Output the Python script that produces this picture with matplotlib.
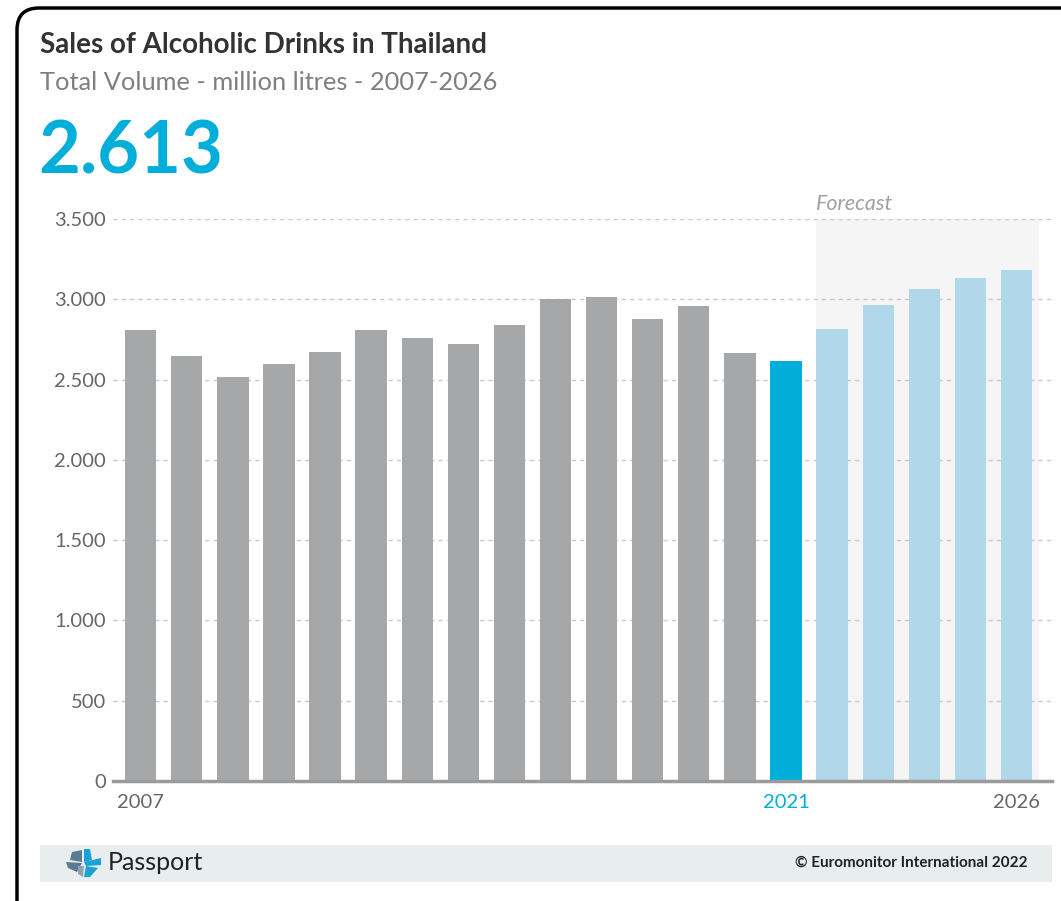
import matplotlib.pyplot as plt
from matplotlib.patches import FancyBboxPatch, Rectangle, Polygon
from matplotlib.ticker import FuncFormatter

plt.rcParams['font.family'] = ['Lato', 'DejaVu Sans']

years = list(range(2007, 2027))
volume = [2808, 2646, 2516, 2598, 2671, 2810, 2756, 2723, 2839, 3003,
          3012, 2879, 2960, 2667, 2613, 2813, 2967, 3067, 3131, 3183]
shown_years = ['2007', '2021', '2026']

GREY = '#A6A7A9'
BLUE = '#00AEDA'
LIGHT = '#B1D7EA'
TXT = '#666666'

W, H = 1061, 901
fig = plt.figure(figsize=(W / 100, H / 100), dpi=100)

# overlay in pixel coords for frame, header and footer
bg = fig.add_axes([0, 0, 1, 1], zorder=0)
bg.set_xlim(0, W)
bg.set_ylim(H, 0)
bg.axis('off')
bg.add_patch(FancyBboxPatch((17, 8), 1080, 940, boxstyle='round,pad=0,rounding_size=22',
                            fc='white', ec='black', lw=2.5))
bg.add_patch(Rectangle((40, 845), 1012, 37, fc='#E8EDED', ec='none'))
bg.text(40, 45, 'Sales of Alcoholic Drinks in Thailand', fontsize=20, fontweight='bold',
        color='#333333', va='center', ha='left')
bg.text(40, 83, 'Total Volume - million litres - 2007-2026', fontsize=18.3, color='#7F7F7F',
        va='center', ha='left')
bg.text(38, 153, '2.613', fontsize=52, fontweight='bold', color=BLUE, va='center', ha='left')
bg.text(108, 863, 'Passport', fontsize=18, color='#222222', va='center', ha='left')
bg.text(1028, 863, '\u00a9 Euromonitor International 2022', fontsize=11, fontweight='bold',
        color='#222222', va='center', ha='right')
# passport logo
logo = [
    ([(84, 849), (90, 849), (92, 860), (84, 862)], '#1BA1D6'),
    ([(84, 862), (101, 858), (101, 865), (86, 866)], '#1BA1D6'),
    ([(86, 866), (98, 868), (90, 877), (84, 877)], '#1BA1D6'),
    ([(72, 852), (82, 850), (82, 862), (70, 860)], '#5B7A93'),
    ([(66, 862), (82, 863), (77, 872), (68, 868)], '#5B7A93'),
    ([(78, 866), (84, 866), (83, 877), (78, 874)], '#8FA3B3'),
]
for pts, c in logo:
    bg.add_patch(Polygon(pts, closed=True, fc=c, ec='none'))

ax = fig.add_axes([113 / W, 1 - 781 / H, (1052 - 113) / W, (781 - 219) / H], zorder=1)
ax.patch.set_alpha(0)
x = list(range(len(years)))
colors = [GREY] * 14 + [BLUE] + [LIGHT] * 5
ax.axvspan(14.66, 19.48, ymin=0, ymax=1, color='#F5F5F5', zorder=0, lw=0)
ax.bar(x, volume, width=0.68, color=colors, zorder=3, lw=0)
ax.set_xlim(-0.6, 19.77)
ax.set_ylim(0, 3500)
ax.set_yticks(range(0, 3501, 500))
ax.yaxis.set_major_formatter(FuncFormatter(lambda v, p: f'{int(v):,}'.replace(',', '.')))
for yv in range(500, 3501, 500):
    ax.axhline(yv, color='#C9C9C9', lw=1, ls=(0, (3, 3)), zorder=1)
ax.set_xticks([0, 14, 19])
ax.set_xticklabels(shown_years)
ax.tick_params(axis='both', length=0, labelsize=14.5, labelcolor=TXT)
ax.get_xticklabels()[1].set_color(BLUE)
ax.tick_params(axis='y', pad=5)
ax.tick_params(axis='x', pad=9)
for s in ['top', 'right', 'left']:
    ax.spines[s].set_visible(False)
ax.spines['bottom'].set_color('#9B9B9B')
ax.spines['bottom'].set_linewidth(2.5)
ax.spines['bottom'].set_zorder(4)
ax.text(14.66, 3530, 'Forecast', fontsize=15.5, style='italic', color='#A0A0A0',
        ha='left', va='bottom')

fig.savefig('out.png', dpi=100)
